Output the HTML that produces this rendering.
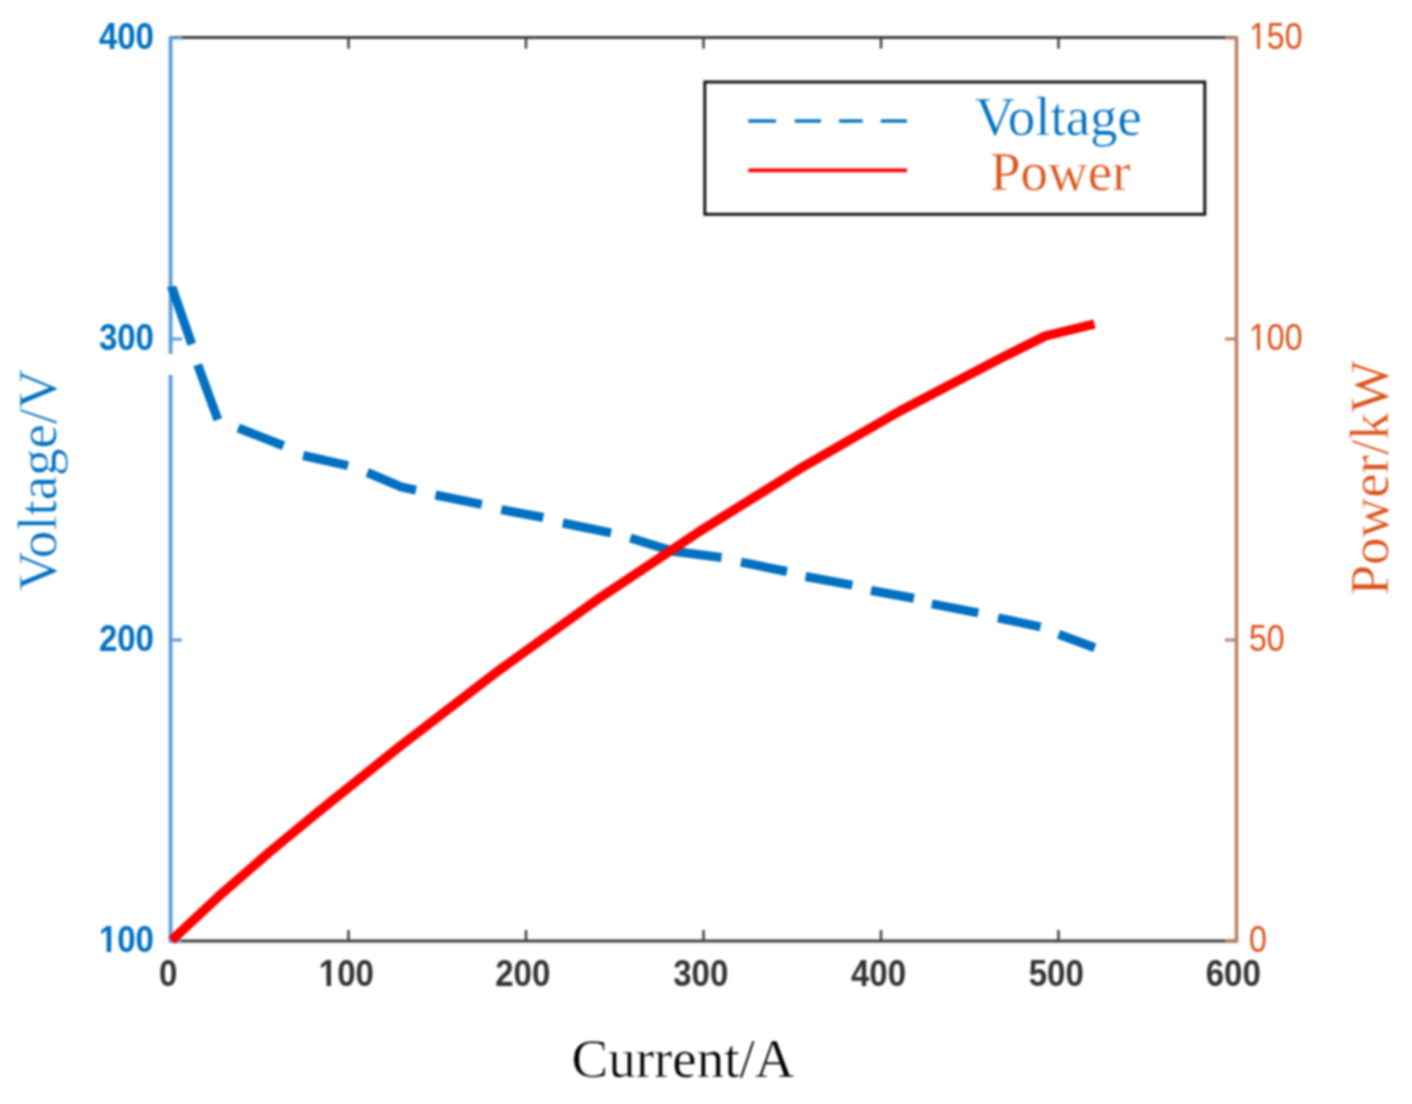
<!DOCTYPE html>
<html><head><meta charset="utf-8"><style>
html,body{margin:0;padding:0;background:#fff;}
body{width:1412px;height:1104px;overflow:hidden;}
svg{display:block;filter:blur(1px);}
.sb{font-family:"Liberation Sans",sans-serif;font-weight:bold;font-size:37px;}
.sr{font-family:"Liberation Sans",sans-serif;font-size:36.5px;}
.se{font-family:"Liberation Serif",serif;font-size:55px;stroke:#fff;stroke-width:0.5px;paint-order:fill stroke;}
</style></head><body>
<svg width="1412" height="1104" viewBox="0 0 1412 1104">
<rect width="1412" height="1104" fill="#fff"/>
<!-- frame -->
<line x1="171" y1="37.6" x2="1236" y2="37.6" stroke="#404040" stroke-width="3"/>
<line x1="171" y1="941" x2="1236" y2="941" stroke="#404040" stroke-width="3"/>
<g stroke="#404040" stroke-width="2.5"><line x1="348.5" y1="941" x2="348.5" y2="930"/><line x1="348.5" y1="37.6" x2="348.5" y2="48.6"/><line x1="526.0" y1="941" x2="526.0" y2="930"/><line x1="526.0" y1="37.6" x2="526.0" y2="48.6"/><line x1="703.5" y1="941" x2="703.5" y2="930"/><line x1="703.5" y1="37.6" x2="703.5" y2="48.6"/><line x1="881.0" y1="941" x2="881.0" y2="930"/><line x1="881.0" y1="37.6" x2="881.0" y2="48.6"/><line x1="1058.5" y1="941" x2="1058.5" y2="930"/><line x1="1058.5" y1="37.6" x2="1058.5" y2="48.6"/></g>
<line x1="170.6" y1="36.3" x2="170.6" y2="354" stroke="#5a9dd8" stroke-width="3.8"/>
<line x1="170.6" y1="375" x2="170.6" y2="942.7" stroke="#5a9dd8" stroke-width="3.8"/>
<g stroke="#5a9dd8" stroke-width="3"><line x1="171" y1="941.0" x2="182" y2="941.0"/><line x1="171" y1="640.0" x2="182" y2="640.0"/><line x1="171" y1="339.0" x2="182" y2="339.0"/><line x1="171" y1="38.0" x2="182" y2="38.0"/></g>
<line x1="1236.5" y1="36.3" x2="1236.5" y2="942.7" stroke="#b97f66" stroke-width="3.6"/>
<g stroke="#b97f66" stroke-width="3"><line x1="1236" y1="941.0" x2="1225" y2="941.0"/><line x1="1236" y1="640.0" x2="1225" y2="640.0"/><line x1="1236" y1="339.0" x2="1225" y2="339.0"/><line x1="1236" y1="38.0" x2="1225" y2="38.0"/></g>
<!-- tick labels -->
<g class="sb" fill="#333"><g transform="translate(168.1,985.5) scale(0.893,1)"><text text-anchor="middle">0</text></g><g transform="translate(346.4,985.5) scale(0.893,1)"><text text-anchor="middle">100</text><rect x="-30.04" y="-4.08" width="7.81" height="5.58" fill="#fff"/><rect x="-17.15" y="-4.08" width="7.34" height="5.58" fill="#fff"/></g><g transform="translate(522.7,985.5) scale(0.893,1)"><text text-anchor="middle">200</text></g><g transform="translate(700.8,985.5) scale(0.893,1)"><text text-anchor="middle">300</text></g><g transform="translate(878.5,985.5) scale(0.893,1)"><text text-anchor="middle">400</text></g><g transform="translate(1056.3,985.5) scale(0.893,1)"><text text-anchor="middle">500</text></g><g transform="translate(1233.2,985.5) scale(0.893,1)"><text text-anchor="middle">600</text></g></g>
<g class="sb" fill="#0070C0"><g transform="translate(154.0,951.5) scale(0.893,1)"><text text-anchor="end">100</text><rect x="-60.90" y="-4.08" width="7.81" height="5.58" fill="#fff"/><rect x="-48.02" y="-4.08" width="7.34" height="5.58" fill="#fff"/></g><g transform="translate(154.0,650.5) scale(0.893,1)"><text text-anchor="end">200</text></g><g transform="translate(154.0,349.5) scale(0.893,1)"><text text-anchor="end">300</text></g><g transform="translate(154.0,48.5) scale(0.893,1)"><text text-anchor="end">400</text></g></g>
<g class="sr" fill="#D95319"><g transform="translate(1249.0,951.6) scale(0.88,1)"><text text-anchor="start">0</text></g><g transform="translate(1249.0,650.6) scale(0.88,1)"><text text-anchor="start">50</text></g><g transform="translate(1249.0,349.6) scale(0.88,1)"><text text-anchor="start">100</text><rect x="1.28" y="-3.03" width="7.90" height="4.53" fill="#fff"/><rect x="12.40" y="-3.03" width="7.61" height="4.53" fill="#fff"/></g><g transform="translate(1249.0,48.6) scale(0.88,1)"><text text-anchor="start">150</text><rect x="1.28" y="-3.03" width="7.90" height="4.53" fill="#fff"/><rect x="12.40" y="-3.03" width="7.61" height="4.53" fill="#fff"/></g></g>
<!-- axis titles -->
<text class="se" x="683" y="1077" text-anchor="middle" fill="#000">Current/A</text>
<text class="se" transform="translate(56,480) rotate(-90)" text-anchor="middle" fill="#0070C0">Voltage/V</text>
<text class="se" transform="translate(1388,478) rotate(-90)" text-anchor="middle" fill="#D95319">Power/kW</text>
<!-- curves -->
<polygon points="167.0,287.0 176.2,285.7 196.0,342.7 187.6,345.7" fill="#0070C0"/>
<g fill="none" stroke="#0070C0" stroke-width="9" stroke-linejoin="miter" stroke-linecap="butt">
<path d="M197.7,364.8 L217.9,419.8"/>
<path d="M238.2,428.0 L283.5,445.8"/>
<path d="M303.2,455.5 L348.0,465.7"/>
<path d="M367.3,472.5 L401.2,486.9 L416.0,490.2"/>
<path d="M435.5,495.0 L481.8,504.3"/>
<path d="M501.3,509.7 L543.3,517.5"/>
<path d="M562.8,523.0 L611.0,532.9"/>
<path d="M630.4,538.0 L673.2,551.3 L721.5,557.5"/>
<path d="M741.0,562.2 L787.0,571.5"/>
<path d="M805.6,576.5 L852.3,585.1"/>
<path d="M871.0,590.5 L913.9,598.3"/>
<path d="M931.8,603.8 L978.3,612.9"/>
<path d="M998.0,617.8 L1040.5,626.8"/>
<path d="M1058.6,634.2 L1094.8,647.8"/>
</g>
<path d="M171.5,940.5 L220.0,895.2 L270.0,851.6 L320.0,810.5 L400.0,746.2 L500.0,669.6 L600.0,597.7 L700.0,531.1 L800.0,468.7 L900.0,411.0 L1000.0,358.6 L1045.3,336.0 L1094.5,324.0" fill="none" stroke="#FF0000" stroke-width="9.5" stroke-linejoin="round" stroke-linecap="butt"/>
<!-- legend -->
<rect x="704.8" y="82" width="500" height="132.3" fill="#fff" stroke="#151515" stroke-width="3"/>
<g stroke="#0070C0" stroke-width="3.3"><line x1="748.3" y1="121" x2="776.0" y2="121"/><line x1="794.8" y1="121" x2="821.0" y2="121"/><line x1="839.1" y1="121" x2="862.7" y2="121"/><line x1="880.8" y1="121" x2="907.0" y2="121"/></g>
<line x1="748.3" y1="170.4" x2="907" y2="170.4" stroke="#FF0000" stroke-width="3.8"/>
<text class="se" x="975" y="134.5" fill="#0070C0">Voltage</text>
<text class="se" x="990" y="189.5" fill="#D95319">Power</text>
</svg>
</body></html>
